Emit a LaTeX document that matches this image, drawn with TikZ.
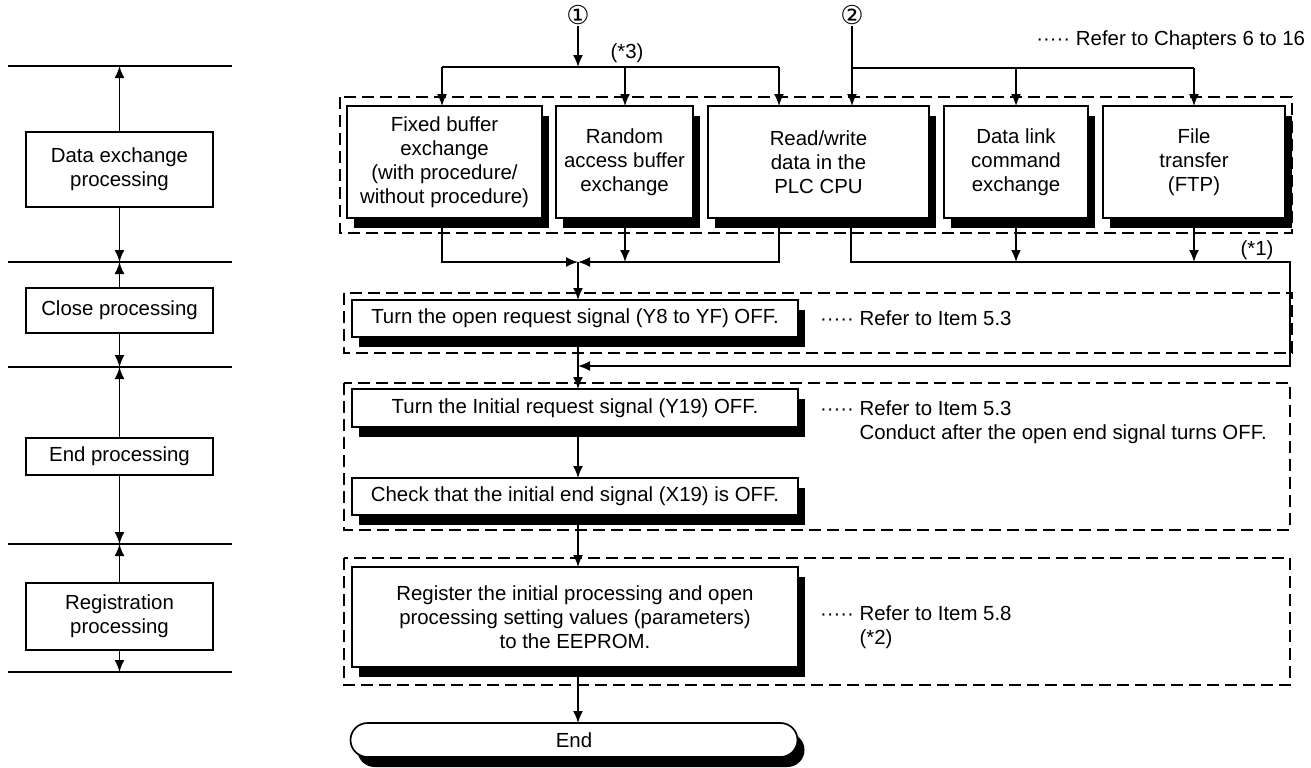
\documentclass[tikz,border=0pt]{standalone}
\usepackage{fontspec}
\setmainfont{Liberation Sans}
\newfontfamily\dejavu{DejaVu Sans}
\usetikzlibrary{arrows.meta,shadows,calc}
\begin{document}
\begin{tikzpicture}[x=0.5pt,y=-0.5pt,
  font=\fontsize{10.2pt}{12pt}\selectfont,
  line width=0.85pt,
  txt/.style={inner sep=0pt, outer sep=0pt},
  sbox/.style={draw, fill=white, align=center, inner sep=0pt, outer sep=0pt, minimum width=93.5pt},
  pbox/.style={draw, fill=white, align=center, inner sep=0pt, outer sep=0pt,
    drop shadow={shadow xshift=3.5pt, shadow yshift=-5pt, fill=black, opacity=1}},
  dbox/.style={draw, line width=0.65pt, dash pattern=on 6pt off 3pt},
  arr/.style={-{Latex[length=6pt,width=5pt]}},
  circ/.style={inner sep=0pt, font=\dejavu\fontsize{13pt}{14pt}\selectfont}
]
\useasboundingbox (0,0) rectangle (1311,767);

% ---------- left column ----------
\foreach \yy in {66,262,367,544,672} \draw (8,\yy) -- (232,\yy);
\coordinate (L1) at (119.5,66);
\coordinate (L2) at (119.5,262);
\coordinate (L3) at (119.5,367);
\coordinate (L4) at (119.5,544);
\coordinate (L5) at (119.5,672);
\node[sbox, minimum height=37.5pt] (dx) at (119.5,169.5) {Data exchange\\processing};
\node[sbox, minimum height=22.5pt] (cl) at (119.5,310.5) {Close processing};
\node[sbox, minimum height=18.5pt] (en) at (119.5,456.5) {End processing};
\node[sbox, minimum height=33.5pt] (rg) at (119.5,616.5) {Registration\\processing};
\draw[arr] (dx.north) -- (L1);
\draw[arr] (dx.south) -- (L2);
\draw[arr] (cl.north) -- (L2);
\draw[arr] (cl.south) -- (L3);
\draw[arr] (en.north) -- (L3);
\draw[arr] (en.south) -- (L4);
\draw[arr] (rg.north) -- (L4);
\draw[arr] (rg.south) -- (L5);

% ---------- dashed groups ----------
\draw[dbox] (340,97) rectangle (1292,233);
\draw[dbox] (344,293) rectangle (1292,353);
\draw[dbox] (344,383) rectangle (1290,530);
\draw[dbox] (344,558) rectangle (1290,685);

% ---------- top boxes ----------
\node[pbox, minimum width=97.5pt, minimum height=56pt] (b1) at (444.5,162) {Fixed buffer\\exchange\\(with procedure/\\without procedure)};
\node[pbox, minimum width=68.5pt, minimum height=56pt] (b2) at (624.5,162) {Random\\access buffer\\exchange};
\node[pbox, minimum width=110.5pt, minimum height=56pt] (b3) at (818.5,162) {Read/write\\data in the\\PLC CPU};
\node[pbox, minimum width=72pt, minimum height=56pt] (b4) at (1016,162) {Data link\\command\\exchange};
\node[pbox, minimum width=91pt, minimum height=56pt] (b5) at (1194,162) {File\\transfer\\(FTP)};

% ---------- upper bus ----------
\node[circ] (c1) at (578,15) {①};
\node[circ] (c2) at (852,15) {②};
\coordinate (t1) at (442,67);
\coordinate (t2) at (625,67);
\coordinate (t3) at (779,67);
\coordinate (j1) at (578,67);
\draw (t1) -- (t3);
\draw[arr] (c1.south) -- (j1);
\draw[arr] (t1) -- (t1 |- b1.north);
\draw[arr] (t2) -- (t2 |- b2.north);
\draw[arr] (t3) -- (t3 |- b3.north);
\node[txt] (n3) at (627,53) {(*3)};
\coordinate (u1) at (852,68);
\coordinate (u2) at (1016,68);
\coordinate (u3) at (1194,68);
\draw (u1) -- (u3);
\draw[arr] (c2.south) -- (c2.south |- b3.north);
\draw[arr] (u2) -- (u2 |- b4.north);
\draw[arr] (u3) -- (u3 |- b5.north);
\node[txt, anchor=east] (ref1) at (1305,40) {····· Refer to Chapters 6 to 16};

% ---------- main column boxes ----------
\node[pbox, minimum width=223pt, minimum height=18.5pt] (cb) at (575,318.5) {Turn the open request signal (Y8 to YF) OFF.};
\node[pbox, minimum width=223pt, minimum height=19pt] (ti) at (575,408) {Turn the Initial request signal (Y19) OFF.};
\node[pbox, minimum width=223pt, minimum height=18.5pt] (ck) at (575,496.5) {Check that the initial end signal (X19) is OFF.};
\node[pbox, minimum width=223pt, minimum height=50pt] (rb) at (575,617) {Register the initial processing and open\\processing setting values (parameters)\\to the EEPROM.};
\node[pbox, rounded corners=8.5pt, minimum width=223.5pt, minimum height=17pt] (endn) at (574,740) {End};

\node[txt, anchor=west] (ref2) at (820,318) {····· Refer to Item 5.3};
\node[txt, anchor=west, align=left] (ref3) at (820,422) {····· Refer to Item 5.3\\\phantom{····· }Conduct after the open end signal turns OFF.};
\node[txt, anchor=west, align=left] (ref4) at (820,627) {····· Refer to Item 5.8\\\phantom{····· }(*2)};

% ---------- lower bus ----------
\coordinate (m1) at (442,262);
\coordinate (m2) at (625,262);
\coordinate (m3) at (779,262);
\coordinate (jm) at (578,262);
\draw[arr] (m1 |- b1.south) -- (m1) -- (jm);
\draw[arr] (m3 |- b3.south) -- (m3) -- (jm);
\draw[arr] (m2 |- b2.south) -- (m2);
\draw[arr] (jm) -- (jm |- cb.north);
\coordinate (r1) at (851,262);
\coordinate (r2) at (1290,262);
\coordinate (r3) at (1290,366);
\coordinate (jr) at (578,366);
\draw[arr] (r1 |- b3.south) -- (r1) -- (r2) -- (r3) -- (jr);
\draw[arr] (b4.south) -- (b4.south |- r1);
\draw[arr] (b5.south) -- (b5.south |- r1);
\node[txt] (n1) at (1257,250) {(*1)};

\draw[arr] (jm |- cb.south) -- (jm |- ti.north);
\draw[arr] (jm |- ti.south) -- (jm |- ck.north);
\draw[arr] (jm |- ck.south) -- (jm |- rb.north);
\draw[arr] (jm |- rb.south) -- (jm |- endn.north);
\end{tikzpicture}
\end{document}
